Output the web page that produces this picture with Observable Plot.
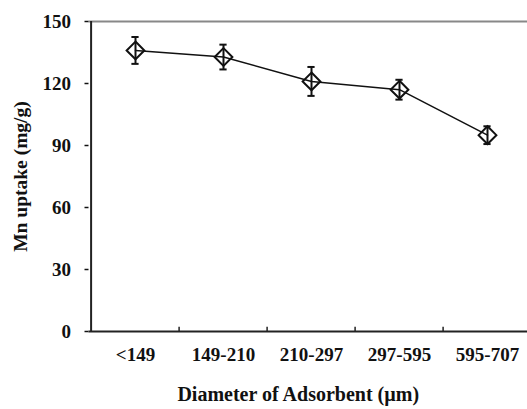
<!DOCTYPE html>
<html>
<head>
<meta charset="utf-8">
<script src="https://cdn.jsdelivr.net/npm/d3@7"></script>
<script src="https://cdn.jsdelivr.net/npm/@observablehq/plot@0.6"></script>
<style>
  html, body { margin: 0; padding: 0; background: #fff; overflow: hidden; }
  svg, svg text { font-family: "Liberation Serif", "DejaVu Serif", serif !important; font-weight: bold; }
</style>
</head>
<body>
<div id="chart"></div>
<script>
const categories = ["<149", "149-210", "210-297", "297-595", "595-707"];
const uptake = [136, 132.8, 121, 117, 95];
const errors = [6.5, 6, 7, 4.8, 4.3];
const yTicks = [0, 30, 60, 90, 120, 150];
const xLabel = "Diameter of Adsorbent (\u00b5m)";
const yLabel = "Mn uptake (mg/g)";

const data = categories.map((c, i) => ({c, v: uptake[i], lo: uptake[i] - errors[i], hi: uptake[i] + errors[i]}));

const W = 527, H = 409;
const pLeft = 88.5, pRight = 532.5, pTop = 21, pBottom = 331;
const bw = (pRight - pLeft) / categories.length;
const capInset = (bw - 8) / 2;
const FF = "Liberation Serif";

const chart = Plot.plot({
  width: W,
  height: H,
  marginLeft: pLeft,
  marginRight: 0,
  marginTop: pTop,
  marginBottom: H - pBottom,
  style: {fontSize: "18px", fontWeight: "bold", color: "#111", background: "#fff", overflow: "hidden"},
  x: {type: "band", domain: categories, range: [pLeft, pRight], padding: 0},
  y: {domain: [0, 150], range: [pBottom, pTop]},
  marks: [
    Plot.ruleY([150], {stroke: "#888", strokeWidth: 2}),
    Plot.axisY({ticks: yTicks, tickSize: 4, tickPadding: 14, label: null, strokeWidth: 1.5, fontSize: 19, fontFamily: FF}),
    Plot.axisX({tickSize: 0, tickPadding: 16, label: null, fontSize: 19, fontFamily: FF}),
    Plot.ruleX([0], {x: () => categories[0], dx: -bw / 2, y1: 0, y2: 150, stroke: "#222", strokeWidth: 2}),
    Plot.ruleY([0], {stroke: "#222", strokeWidth: 2}),
    Plot.ruleX(categories.slice(1), {x: d => d, dx: -bw / 2, y1: 0, y2: 2, stroke: "#222", strokeWidth: 1.5}),
    Plot.text([yLabel], {frameAnchor: "left", textAnchor: "middle", dx: -68, rotate: -90, fontSize: 19.5, fontFamily: FF, fill: "#111"}),
    Plot.text([xLabel], {frameAnchor: "bottom", dx: -10, dy: 69, fontSize: 20, fontFamily: FF, fill: "#111"}),
    Plot.line(data, {x: "c", y: "v", stroke: "#111", strokeWidth: 1.5}),
    Plot.ruleX(data, {x: "c", y1: "lo", y2: "hi", stroke: "#111", strokeWidth: 2}),
    Plot.tickY(data, {x: "c", y: "lo", insetLeft: capInset, insetRight: capInset, stroke: "#111", strokeWidth: 2}),
    Plot.tickY(data, {x: "c", y: "hi", insetLeft: capInset, insetRight: capInset, stroke: "#111", strokeWidth: 2}),
    Plot.dot(data, {x: "c", y: "v", symbol: "diamond2", r: 8, stroke: "#111", strokeWidth: 2, fill: "none"})
  ]
});
document.getElementById("chart").appendChild(chart);
</script>
</body>
</html>
